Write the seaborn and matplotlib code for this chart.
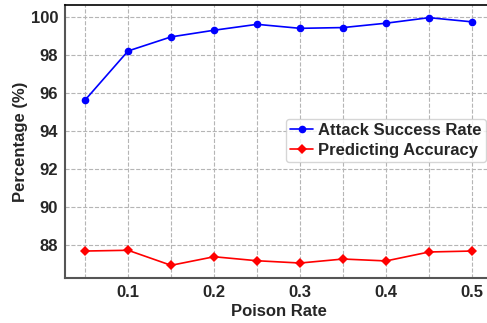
import numpy as np
import pandas as pd
import matplotlib
matplotlib.use("Agg")
import matplotlib.pyplot as plt
import seaborn as sns

poison_rate = [0.05, 0.10, 0.15, 0.20, 0.25, 0.30, 0.35, 0.40, 0.45, 0.50]
attack_success = [95.63, 98.21, 98.95, 99.30, 99.61, 99.40, 99.44, 99.67, 99.96, 99.74]
pred_accuracy = [87.70, 87.74, 86.95, 87.40, 87.19, 87.07, 87.28, 87.18, 87.65, 87.70]
xtick_labels = ["", "0.1", "", "0.2", "", "0.3", "", "0.4", "", "0.5"]
ytick_vals = [88, 90, 92, 94, 96, 98, 100]

sns.set_style("white")
plt.rcParams['font.family'] = ['Liberation Sans', 'DejaVu Sans']
plt.rcParams['font.weight'] = 'bold'

df = pd.DataFrame({"rate": poison_rate, "asr": attack_success, "acc": pred_accuracy})

fig = plt.figure(figsize=(4.87, 3.23), dpi=100)
ax = fig.add_axes([0.1335, 0.1403, 0.877, 0.8433])

sns.lineplot(data=df, x="rate", y="asr", ax=ax, color="blue", marker="o",
             markersize=5.5, markeredgewidth=0, linewidth=1.2, label="Attack Success Rate")
sns.lineplot(data=df, x="rate", y="acc", ax=ax, color="red", marker="D",
             markersize=5, markeredgewidth=0, linewidth=1.2, label="Predicting Accuracy")

ax.set_xlim(0.0267, 0.5233)
ax.set_ylim(86.30, 100.61)
ax.set_xticks(poison_rate)
ax.set_xticklabels(xtick_labels, fontsize=12, fontweight="bold")
ax.set_yticks(ytick_vals)
ax.set_yticklabels([str(v) for v in ytick_vals], fontsize=12, fontweight="bold")
ax.tick_params(axis="both", direction="out", length=3, width=1, color="#555555", pad=2)
ax.grid(True, linestyle="--", color="#b5b5b5", linewidth=0.8)

ax.set_xlabel("Poison Rate", fontsize=12, fontweight="bold", labelpad=3)
ax.set_ylabel("Percentage (%)", fontsize=12, fontweight="bold", labelpad=2)

for side in ["left", "bottom"]:
    ax.spines[side].set_color("#555555")
    ax.spines[side].set_linewidth(1.5)
ax.spines["top"].set_color("black")
ax.spines["top"].set_linewidth(1.2)
ax.spines["right"].set_visible(False)

leg = ax.legend(loc="upper left", bbox_to_anchor=(0.587, 0.632), bbox_transform=fig.transFigure,
                prop={"size": 12, "weight": "bold"}, handlelength=1.4, handletextpad=0.3,
                borderpad=0.25, borderaxespad=0, labelspacing=0.3, frameon=True)
leg.get_frame().set_edgecolor("#cccccc")

fig.savefig("out.png", dpi=100)
